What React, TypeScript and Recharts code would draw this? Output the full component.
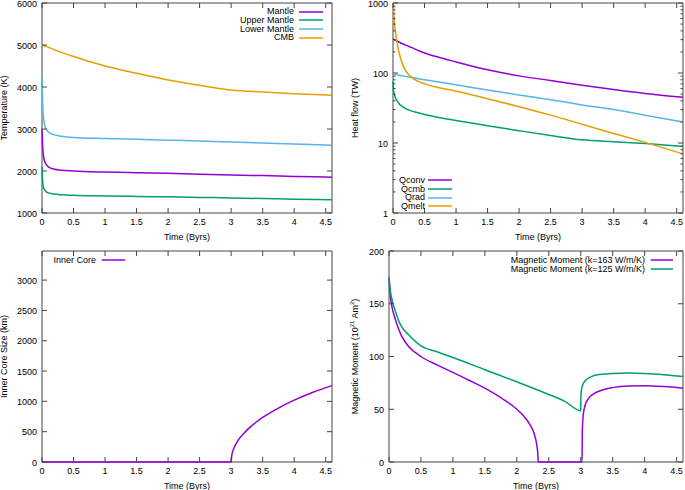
import React from "react";
import { LineChart, Line, XAxis, YAxis, ReferenceArea, Legend } from "recharts";

const FONT = "'Liberation Sans', Arial, Helvetica, sans-serif";
const INK = "#000";
const FRAME = "#444";
const VIOLET = "#9400d3";
const TEAL = "#009e73";
const SKY = "#56b4e9";
const AMBER = "#e69f00";

const T_MAX = 4.6;
const timeTicks = [0, 0.5, 1, 1.5, 2, 2.5, 3, 3.5, 4, 4.5];

// temperatures (K)
const tempTime = [0, 0.01, 0.025, 0.05, 0.1, 0.2, 0.3, 0.5, 1, 1.5, 2, 2.5, 3, 3.5, 4, 4.6];
const mantle = [3000, 2600, 2350, 2200, 2100, 2040, 2020, 2000, 1975, 1960, 1945, 1925, 1905, 1890, 1872, 1852];
const upperMantle = [2100, 1750, 1600, 1530, 1480, 1450, 1435, 1420, 1405, 1395, 1385, 1372, 1360, 1345, 1330, 1315];
const lowerMantle = [4250, 3600, 3250, 3050, 2930, 2860, 2830, 2800, 2775, 2755, 2735, 2715, 2690, 2665, 2640, 2612];
const cmb = [5000, 4995, 4988, 4975, 4945, 4885, 4830, 4725, 4500, 4326, 4167, 4040, 3929, 3881, 3840, 3802];
const tempTicks = [1000, 2000, 3000, 4000, 5000, 6000];
const tempNames = ["Mantle", "Upper Mantle", "Lower Mantle", "CMB"];

// heat flow (TW)
const heatTime = [0, 0.01, 0.025, 0.05, 0.075, 0.1, 0.15, 0.2, 0.3, 0.4, 0.5, 0.75, 1, 1.5, 2, 2.5, 3, 3.5, 4, 4.6];
const qconv = [306, 303, 298, 290, 282, 275, 262, 250, 230, 210, 193, 165, 144, 111, 91, 78, 67, 58, 51, 45];
const qcmb = [75, 55, 48, 42, 39, 36, 33, 31, 28.5, 27, 25.5, 23, 21, 17.7, 15, 12.8, 11.1, 10.4, 9.8, 8.9];
const qrad = [96, 96, 95.5, 95, 94, 93, 91, 89.5, 86.5, 83, 80, 74, 68, 57, 48.5, 41.6, 35, 30, 25, 20];
const qmelt = [1300, 800, 500, 330, 240, 190, 135, 108, 86, 76, 70, 61, 55, 43, 33, 25, 18.5, 13.7, 10.2, 7];
const heatTicks = [1, 2, 3, 4, 5, 6, 7, 8, 9, 10, 20, 30, 40, 50, 60, 70, 80, 90, 100, 200, 300, 400, 500, 600, 700, 800, 900, 1000];
const heatMajor = [1, 10, 100, 1000];
const heatNames = ["Qconv", "Qcmb", "Qrad", "Qmelt"];

// inner core radius (km)
const coreTime = [0, 1, 2, 3, 3.01, 3.03, 3.06, 3.1, 3.2, 3.3, 3.4, 3.5, 3.75, 4, 4.3, 4.6];
const coreSize = [0, 0, 0, 0, 110, 190, 265, 340, 470, 575, 660, 735, 890, 1020, 1150, 1260];
const coreTicks = [0, 500, 1000, 1500, 2000, 2500, 3000];
const coreNames = ["Inner Core"];

// magnetic moment (10^21 Am^2)
const moment163Time = [0, 0.02, 0.05, 0.1, 0.15, 0.2, 0.3, 0.5, 0.75, 1, 1.25, 1.5, 1.75, 2, 2.1, 2.2, 2.27, 2.31, 2.33, 2.335, 3.02, 3.025, 3.04, 3.07, 3.12, 3.2, 3.35, 3.5, 3.75, 4, 4.3, 4.6];
const moment163 = [175, 158, 146, 135, 126, 119, 110, 100, 92, 85, 77.5, 70, 61, 50, 44, 36, 27, 17, 6, 0, 0, 30, 45, 54, 60, 64.5, 68.5, 70.5, 72, 72.3, 71.5, 70];
const moment125Time = [0, 0.02, 0.05, 0.1, 0.15, 0.2, 0.3, 0.5, 0.75, 1, 1.5, 2, 2.5, 2.75, 3, 3.002, 3.01, 3.03, 3.07, 3.15, 3.3, 3.5, 3.75, 4, 4.3, 4.6];
const moment125 = [175, 163, 153, 143, 134, 128, 121, 110, 104.5, 99, 87.5, 76, 64, 57.5, 48.5, 60, 68, 73, 77, 80.5, 83, 84, 84.3, 84, 82.8, 81];
const momentTicks = [0, 50, 100, 150, 200];
const momentNames = ["Magnetic Moment (k=163 W/m/K)", "Magnetic Moment (k=125 W/m/K)"];

const tempRows = tempTime.map((t, i) => ({
  t,
  mantle: mantle[i],
  upper: upperMantle[i],
  lower: lowerMantle[i],
  cmb: cmb[i],
}));
const heatRows = heatTime.map((t, i) => ({ t, qconv: qconv[i], qcmb: qcmb[i], qrad: qrad[i], qmelt: qmelt[i] }));
const coreRows = coreTime.map((t, i) => ({ t, v: coreSize[i] }));
const m163Rows = moment163Time.map((t, i) => ({ t, v: moment163[i] }));
const m125Rows = moment125Time.map((t, i) => ({ t, v: moment125[i] }));

const textStyle = { fontFamily: FONT, fontSize: 9, fill: INK };

// gnuplot-ish ticks: pointing inwards, mirrored on the opposite border
function XTick(props: any) {
  const { x, y, payload, top } = props;
  return (
    <g>
      <line x1={x} x2={x} y1={y} y2={y - 5} stroke={FRAME} />
      <line x1={x} x2={x} y1={top} y2={top + 5} stroke={FRAME} />
      <text x={x} y={y + 12} textAnchor="middle" {...textStyle}>
        {payload.value}
      </text>
    </g>
  );
}

function YTick(props: any) {
  const { x, y, payload, right, major } = props;
  const isMajor = !major || major.includes(payload.value);
  const len = isMajor ? 5 : 2.5;
  return (
    <g>
      <line x1={x} x2={x + len} y1={y} y2={y} stroke={FRAME} />
      <line x1={right} x2={right - len} y1={y} y2={y} stroke={FRAME} />
      {isMajor && (
        <text x={x - 5} y={y + 3.5} textAnchor="end" {...textStyle}>
          {payload.value}
        </text>
      )}
    </g>
  );
}

const timeLabel = (props: any) => {
  const vb = props.viewBox || {};
  return (
    <text x={vb.x + vb.width / 2} y={vb.y + 27} textAnchor="middle" {...textStyle}>
      Time (Byrs)
    </text>
  );
};

const yLabel = (dx: number, content: React.ReactNode) => (props: any) => {
  const vb = props.viewBox || {};
  const cx = vb.x + dx;
  const cy = vb.y + vb.height / 2;
  return (
    <text x={cx} y={cy} transform={`rotate(-90 ${cx} ${cy})`} textAnchor="middle" dominantBaseline="central" {...textStyle}>
      {content}
    </text>
  );
};

function KeyBox({ payload, order, textWidth, rowHeight, gap, sample }: any) {
  const items = [...(payload || [])].sort((a: any, b: any) => order.indexOf(a.value) - order.indexOf(b.value));
  return (
    <div style={{ fontFamily: FONT, fontSize: 9, color: INK }}>
      {items.map((e: any) => (
        <div key={e.value} style={{ display: "flex", alignItems: "center", height: rowHeight }}>
          <span style={{ width: textWidth, textAlign: "right", whiteSpace: "nowrap", lineHeight: `${rowHeight}px` }}>
            {e.value}
          </span>
          <svg width={sample + gap} height={4} style={{ display: "block" }}>
            <line x1={gap} x2={gap + sample} y1={2} y2={2} stroke={e.color} strokeWidth={1.5} />
          </svg>
        </div>
      ))}
    </div>
  );
}

function keyLegend(order: string[], left: number, top: number, textWidth: number, rowHeight: number, gap: number, sample: number) {
  return (
    <Legend
      layout="vertical"
      align="center"
      verticalAlign="middle"
      wrapperStyle={{ left, top, width: textWidth + gap + sample, height: "auto" }}
      content={(p: any) => (
        <KeyBox payload={p.payload} order={order} textWidth={textWidth} rowHeight={rowHeight} gap={gap} sample={sample} />
      )}
    />
  );
}

function TemperaturePanel() {
  return (
    <LineChart width={342} height={245} data={tempRows} margin={{ top: 3, right: 10, left: 0, bottom: 0 }}>
      <XAxis
        dataKey="t"
        type="number"
        domain={[0, T_MAX]}
        ticks={timeTicks}
        interval={0}
        height={32}
        axisLine={false}
        tickLine={false}
        tickSize={0}
        tickMargin={0}
        tick={(p: any) => <XTick {...p} top={3} />}
        label={timeLabel}
      />
      <YAxis
        type="number"
        domain={[1000, 6000]}
        ticks={tempTicks}
        interval={0}
        width={42}
        axisLine={false}
        tickLine={false}
        tickSize={0}
        tickMargin={0}
        tick={(p: any) => <YTick {...p} right={332} />}
        label={yLabel(4, "Temperature (K)")}
      />
      <ReferenceArea x1={0} x2={T_MAX} y1={1000} y2={6000} fill="none" stroke={FRAME} ifOverflow="visible" />
      <Line name={tempNames[0]} dataKey="mantle" type="monotone" stroke={VIOLET} strokeWidth={1.5} dot={false} activeDot={false} isAnimationActive={false} />
      <Line name={tempNames[1]} dataKey="upper" type="monotone" stroke={TEAL} strokeWidth={1.5} dot={false} activeDot={false} isAnimationActive={false} />
      <Line name={tempNames[2]} dataKey="lower" type="monotone" stroke={SKY} strokeWidth={1.5} dot={false} activeDot={false} isAnimationActive={false} />
      <Line name={tempNames[3]} dataKey="cmb" type="monotone" stroke={AMBER} strokeWidth={1.5} dot={false} activeDot={false} isAnimationActive={false} />
      {keyLegend(tempNames, 224, 7.4, 70, 8.7, 5, 24)}
    </LineChart>
  );
}

function HeatFlowPanel() {
  return (
    <LineChart width={343} height={245} data={heatRows} margin={{ top: 3, right: 2, left: 0, bottom: 0 }}>
      <XAxis
        dataKey="t"
        type="number"
        domain={[0, T_MAX]}
        ticks={timeTicks}
        interval={0}
        height={32}
        axisLine={false}
        tickLine={false}
        tickSize={0}
        tickMargin={0}
        tick={(p: any) => <XTick {...p} top={3} />}
        label={timeLabel}
      />
      <YAxis
        type="number"
        scale="log"
        domain={[1, 1000]}
        allowDataOverflow
        ticks={heatTicks}
        interval={0}
        width={51}
        axisLine={false}
        tickLine={false}
        tickSize={0}
        tickMargin={0}
        tick={(p: any) => <YTick {...p} right={341} major={heatMajor} />}
        label={yLabel(13, "Heat flow (TW)")}
      />
      <ReferenceArea x1={0} x2={T_MAX} y1={1} y2={1000} fill="none" stroke={FRAME} ifOverflow="visible" />
      <Line name={heatNames[0]} dataKey="qconv" type="monotone" stroke={VIOLET} strokeWidth={1.5} dot={false} activeDot={false} isAnimationActive={false} />
      <Line name={heatNames[1]} dataKey="qcmb" type="monotone" stroke={TEAL} strokeWidth={1.5} dot={false} activeDot={false} isAnimationActive={false} />
      <Line name={heatNames[2]} dataKey="qrad" type="monotone" stroke={SKY} strokeWidth={1.5} dot={false} activeDot={false} isAnimationActive={false} />
      <Line name={heatNames[3]} dataKey="qmelt" type="monotone" stroke={AMBER} strokeWidth={1.5} dot={false} activeDot={false} isAnimationActive={false} />
      {keyLegend(heatNames, 43, 176, 40, 8.7, 3, 24)}
    </LineChart>
  );
}

function InnerCorePanel() {
  return (
    <LineChart width={342} height={245} margin={{ top: 6, right: 10, left: 0, bottom: 0 }}>
      <XAxis
        dataKey="t"
        type="number"
        domain={[0, T_MAX]}
        ticks={timeTicks}
        interval={0}
        height={28}
        axisLine={false}
        tickLine={false}
        tickSize={0}
        tickMargin={0}
        tick={(p: any) => <XTick {...p} top={6} />}
        label={timeLabel}
      />
      <YAxis
        type="number"
        domain={[0, 3480]}
        ticks={coreTicks}
        interval={0}
        width={42}
        axisLine={false}
        tickLine={false}
        tickSize={0}
        tickMargin={0}
        tick={(p: any) => <YTick {...p} right={332} />}
        label={yLabel(4, "Inner Core Size (km)")}
      />
      <ReferenceArea x1={0} x2={T_MAX} y1={0} y2={3480} fill="none" stroke={FRAME} ifOverflow="visible" />
      <Line data={coreRows} name={coreNames[0]} dataKey="v" type="monotone" stroke={VIOLET} strokeWidth={1.5} dot={false} activeDot={false} isAnimationActive={false} />
      {keyLegend(coreNames, 36, 10.6, 60, 8.7, 5.7, 23.3)}
    </LineChart>
  );
}

function MomentPanel() {
  return (
    <LineChart width={343} height={245} margin={{ top: 6, right: 2, left: 0, bottom: 0 }}>
      <XAxis
        dataKey="t"
        type="number"
        domain={[0, T_MAX]}
        ticks={timeTicks}
        interval={0}
        height={28}
        axisLine={false}
        tickLine={false}
        tickSize={0}
        tickMargin={0}
        tick={(p: any) => <XTick {...p} top={6} />}
        label={timeLabel}
      />
      <YAxis
        type="number"
        domain={[0, 200]}
        ticks={momentTicks}
        interval={0}
        width={47}
        axisLine={false}
        tickLine={false}
        tickSize={0}
        tickMargin={0}
        tick={(p: any) => <YTick {...p} right={341} />}
        label={yLabel(
          13,
          <>
            Magnetic Moment (10
            <tspan dy={-3} fontSize={6}>21</tspan>
            <tspan dy={3}> Am</tspan>
            <tspan dy={-3} fontSize={6}>2</tspan>
            <tspan dy={3}>)</tspan>
          </>
        )}
      />
      <ReferenceArea x1={0} x2={T_MAX} y1={0} y2={200} fill="none" stroke={FRAME} ifOverflow="visible" />
      <Line data={m163Rows} name={momentNames[0]} dataKey="v" type="monotone" stroke={VIOLET} strokeWidth={1.5} dot={false} activeDot={false} isAnimationActive={false} />
      <Line data={m125Rows} name={momentNames[1]} dataKey="v" type="monotone" stroke={TEAL} strokeWidth={1.5} dot={false} activeDot={false} isAnimationActive={false} />
      {keyLegend(momentNames, 143, 11.1, 160, 8.7, 5.7, 22.6)}
    </LineChart>
  );
}

export default function App() {
  return (
    <div style={{ position: "absolute", left: 0, top: 0, width: 685, height: 490, background: "#fff" }}>
      <div style={{ position: "absolute", left: 0, top: 0 }}>
        <TemperaturePanel />
      </div>
      <div style={{ position: "absolute", left: 342, top: 0 }}>
        <HeatFlowPanel />
      </div>
      <div style={{ position: "absolute", left: 0, top: 245 }}>
        <InnerCorePanel />
      </div>
      <div style={{ position: "absolute", left: 342, top: 245 }}>
        <MomentPanel />
      </div>
    </div>
  );
}
